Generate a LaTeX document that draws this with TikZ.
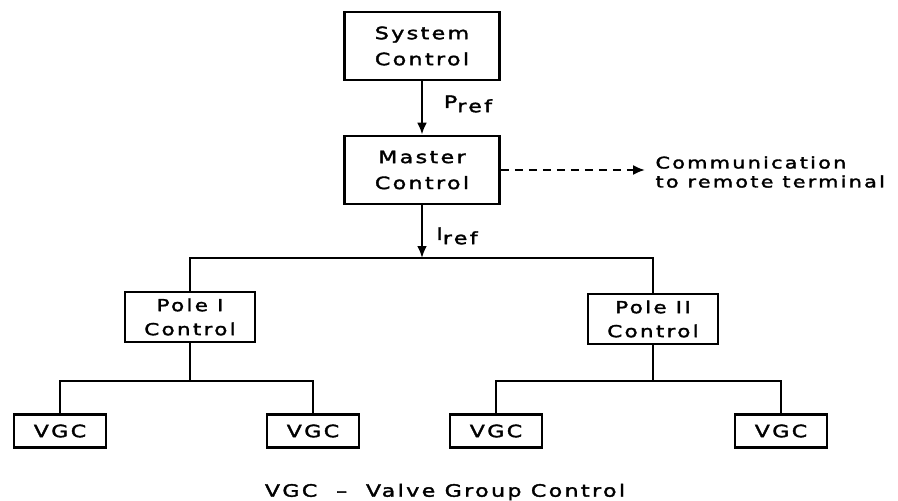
\documentclass[tikz,border=0pt]{standalone}
\usepackage{fontspec}
\setmainfont{DejaVu Sans}[FakeStretch=1.3,LetterSpace=14,FakeBold=2]
\usetikzlibrary{positioning,arrows.meta}

\begin{document}
\begin{tikzpicture}[x=1pt,y=-1pt,
  blk/.style={draw, line width=2.8pt, align=center, inner sep=0pt,
              font=\fontsize{17}{26}\selectfont},
  ctl/.style={blk, minimum width=155pt, minimum height=68pt},
  pole/.style={blk, minimum width=130pt, minimum height=50pt,
               font=\fontsize{16.5}{24}\selectfont},
  vgc/.style={blk, minimum width=92pt, minimum height=33pt},
  wire/.style={line width=2.8pt},
  arr/.style={wire, -{Latex[length=12pt,width=10pt]}},
  lbl/.style={font=\fontsize{17}{20}\selectfont}
]
\useasboundingbox (0,0) rectangle (898,501);
% control chain
\node[ctl] (sys) at (422,46)  {System\\Control};
\node[ctl] (mst) at (422,170) {Master\\Control};
\node[lbl] (pref) at (468,104) {P\raisebox{-0.45ex}{ref}};
\node[lbl] (iref) at (457,236) {I\raisebox{-0.45ex}{ref}};
\draw[arr] (sys)--(mst);
% remote terminal link
\coordinate (rem) at (645,170);
\node[lbl, anchor=west, align=left, font=\fontsize{16}{19}\selectfont]
  (com) at (652,172) {Communication\\to remote terminal};
\draw[arr, line width=2pt, dash pattern=on 8pt off 6pt] (mst)--(rem);
% poles
\coordinate (bus) at (422,258);
\draw[arr] (mst)--(bus);
\node[pole] (p1) at (190,317) {Pole I\\Control};
\node[pole] (p2) at (653,319) {Pole II\\Control};
\draw[wire] (p1) |- (bus) -| (p2);
% valve group controls
\coordinate (j1) at (190,381);
\coordinate (j2) at (653,381);
\node[vgc] (v1) at (60,431)  {VGC};
\node[vgc] (v2) at (313,431) {VGC};
\node[vgc] (v3) at (496,431) {VGC};
\node[vgc] (v4) at (781,431) {VGC};
\draw[wire] (p1)--(j1); \draw[wire] (v1) |- (j1) -| (v2);
\draw[wire] (p2)--(j2); \draw[wire] (v3) |- (j2) -| (v4);
% key
\node[lbl] (key) at (445,492) {VGC\ \ --\ \ Valve Group Control};
\end{tikzpicture}
\end{document}
